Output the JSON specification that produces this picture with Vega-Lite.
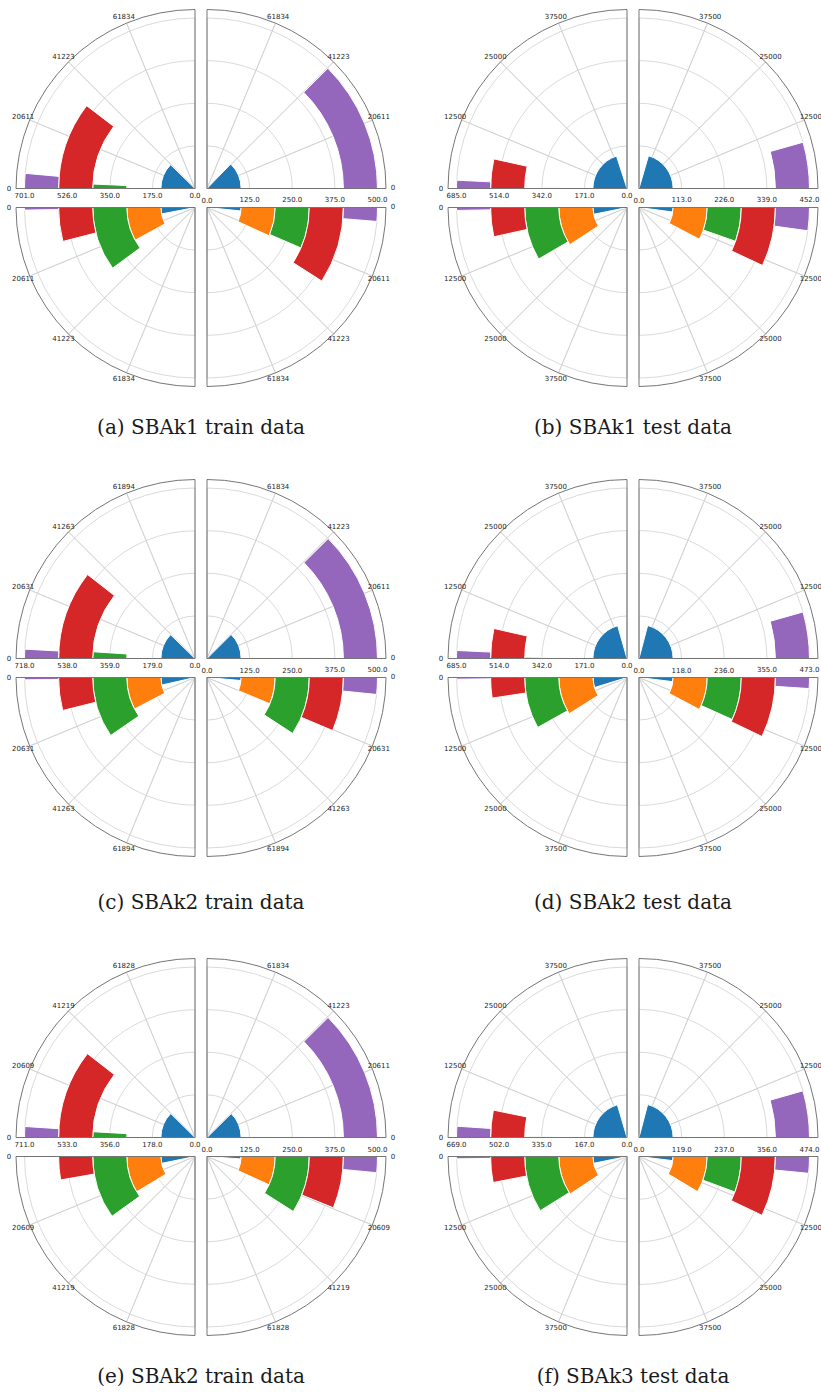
{
"$schema":"https://vega.github.io/schema/vega-lite/v6.json",
"padding":{"left":6,"top":7.5,"right":0,"bottom":5},
"config":{"view":{"stroke":null},"legend":{"disable":true},
"text":{"font":"DejaVu Sans","fontSize":7,"color":"#262626","fill":"#262626","align":"center","baseline":"middle"},
"title":{"font":"DejaVu Serif","fontSize":20,"fontWeight":"normal","color":"#1a1a1a"}},
"datasets":{
"rt":[
{"k":701,"v":0,"l":"0.0"},{"k":701,"v":175,"l":"175.0"},{"k":701,"v":350,"l":"350.0"},{"k":701,"v":526,"l":"526.0"},{"k":701,"v":701,"l":"701.0"},
{"k":500,"v":0,"l":"0.0"},{"k":500,"v":125,"l":"125.0"},{"k":500,"v":250,"l":"250.0"},{"k":500,"v":375,"l":"375.0"},{"k":500,"v":500,"l":"500.0"},
{"k":685,"v":0,"l":"0.0"},{"k":685,"v":171,"l":"171.0"},{"k":685,"v":342,"l":"342.0"},{"k":685,"v":514,"l":"514.0"},{"k":685,"v":685,"l":"685.0"},
{"k":452,"v":0,"l":"0.0"},{"k":452,"v":113,"l":"113.0"},{"k":452,"v":226,"l":"226.0"},{"k":452,"v":339,"l":"339.0"},{"k":452,"v":452,"l":"452.0"},
{"k":718,"v":0,"l":"0.0"},{"k":718,"v":179,"l":"179.0"},{"k":718,"v":359,"l":"359.0"},{"k":718,"v":538,"l":"538.0"},{"k":718,"v":718,"l":"718.0"},
{"k":473,"v":0,"l":"0.0"},{"k":473,"v":118,"l":"118.0"},{"k":473,"v":236,"l":"236.0"},{"k":473,"v":355,"l":"355.0"},{"k":473,"v":473,"l":"473.0"},
{"k":711,"v":0,"l":"0.0"},{"k":711,"v":178,"l":"178.0"},{"k":711,"v":356,"l":"356.0"},{"k":711,"v":533,"l":"533.0"},{"k":711,"v":711,"l":"711.0"},
{"k":669,"v":0,"l":"0.0"},{"k":669,"v":167,"l":"167.0"},{"k":669,"v":335,"l":"335.0"},{"k":669,"v":502,"l":"502.0"},{"k":669,"v":669,"l":"669.0"},
{"k":474,"v":0,"l":"0.0"},{"k":474,"v":119,"l":"119.0"},{"k":474,"v":237,"l":"237.0"},{"k":474,"v":356,"l":"356.0"},{"k":474,"v":474,"l":"474.0"}
],
"tt":[
{"k":"A","v":0,"l":"0"},{"k":"A","v":20611,"l":"20611"},{"k":"A","v":41223,"l":"41223"},{"k":"A","v":61834,"l":"61834"},
{"k":"B","v":0,"l":"0"},{"k":"B","v":12500,"l":"12500"},{"k":"B","v":25000,"l":"25000"},{"k":"B","v":37500,"l":"37500"},
{"k":"C","v":0,"l":"0"},{"k":"C","v":20631,"l":"20631"},{"k":"C","v":41263,"l":"41263"},{"k":"C","v":61894,"l":"61894"},
{"k":"E","v":0,"l":"0"},{"k":"E","v":20609,"l":"20609"},{"k":"E","v":41219,"l":"41219"},{"k":"E","v":61828,"l":"61828"}
],
"bars":[
{"p":"a","q":"TL","c":0,"r0":0,"r1":140.2,"n":40490},{"p":"a","q":"TL","c":1,"r0":140.2,"r1":280.4,"n":0},{"p":"a","q":"TL","c":2,"r0":280.4,"r1":420.6,"n":2290},{"p":"a","q":"TL","c":3,"r0":420.6,"r1":560.8,"n":34260},{"p":"a","q":"TL","c":4,"r0":560.8,"r1":701,"n":4670},
{"p":"a","q":"TR","c":0,"r0":0,"r1":100,"n":42050},{"p":"a","q":"TR","c":1,"r0":100,"r1":200,"n":0},{"p":"a","q":"TR","c":2,"r0":200,"r1":300,"n":0},{"p":"a","q":"TR","c":3,"r0":300,"r1":400,"n":0},{"p":"a","q":"TR","c":4,"r0":400,"r1":500,"n":41085},
{"p":"a","q":"BL","c":0,"r0":0,"r1":140.2,"n":10000},{"p":"a","q":"BL","c":1,"r0":140.2,"r1":280.4,"n":26200},{"p":"a","q":"BL","c":2,"r0":280.4,"r1":420.6,"n":33300},{"p":"a","q":"BL","c":3,"r0":420.6,"r1":560.8,"n":13190},{"p":"a","q":"BL","c":4,"r0":560.8,"r1":701,"n":800},
{"p":"a","q":"BR","c":0,"r0":0,"r1":100,"n":5300},{"p":"a","q":"BR","c":1,"r0":100,"r1":200,"n":22440},{"p":"a","q":"BR","c":2,"r0":200,"r1":300,"n":21340},{"p":"a","q":"BR","c":3,"r0":300,"r1":400,"n":29910},{"p":"a","q":"BR","c":4,"r0":400,"r1":500,"n":4300},
{"p":"b","q":"TL","c":0,"r0":0,"r1":137,"n":40050},{"p":"b","q":"TL","c":1,"r0":137,"r1":274,"n":0},{"p":"b","q":"TL","c":2,"r0":274,"r1":411,"n":330},{"p":"b","q":"TL","c":3,"r0":411,"r1":548,"n":6970},{"p":"b","q":"TL","c":4,"r0":548,"r1":685,"n":1550},
{"p":"b","q":"TR","c":0,"r0":0,"r1":90.4,"n":41000},{"p":"b","q":"TR","c":1,"r0":90.4,"r1":180.8,"n":0},{"p":"b","q":"TR","c":2,"r0":180.8,"r1":271.2,"n":0},{"p":"b","q":"TR","c":3,"r0":271.2,"r1":361.6,"n":0},{"p":"b","q":"TR","c":4,"r0":361.6,"r1":452,"n":8750},
{"p":"b","q":"BL","c":0,"r0":0,"r1":137,"n":6400},{"p":"b","q":"BL","c":1,"r0":137,"r1":274,"n":18330},{"p":"b","q":"BL","c":2,"r0":274,"r1":411,"n":16800},{"p":"b","q":"BL","c":3,"r0":411,"r1":548,"n":6890},{"p":"b","q":"BL","c":4,"r0":548,"r1":685,"n":550},
{"p":"b","q":"BR","c":0,"r0":0,"r1":90.4,"n":4200},{"p":"b","q":"BR","c":1,"r0":90.4,"r1":180.8,"n":15400},{"p":"b","q":"BR","c":2,"r0":180.8,"r1":271.2,"n":10720},{"p":"b","q":"BR","c":3,"r0":271.2,"r1":361.6,"n":13970},{"p":"b","q":"BR","c":4,"r0":361.6,"r1":452,"n":4360},
{"p":"c","q":"TL","c":0,"r0":0,"r1":143.6,"n":40530},{"p":"c","q":"TL","c":1,"r0":143.6,"r1":287.2,"n":0},{"p":"c","q":"TL","c":2,"r0":287.2,"r1":430.8,"n":3480},{"p":"c","q":"TL","c":3,"r0":430.8,"r1":574.4,"n":34840},{"p":"c","q":"TL","c":4,"r0":574.4,"r1":718,"n":2890},
{"p":"c","q":"TR","c":0,"r0":0,"r1":100,"n":41220},{"p":"c","q":"TR","c":1,"r0":100,"r1":200,"n":0},{"p":"c","q":"TR","c":2,"r0":200,"r1":300,"n":0},{"p":"c","q":"TR","c":3,"r0":300,"r1":400,"n":0},{"p":"c","q":"TR","c":4,"r0":400,"r1":500,"n":40950},
{"p":"c","q":"BL","c":0,"r0":0,"r1":143.6,"n":11730},{"p":"c","q":"BL","c":1,"r0":143.6,"r1":287.2,"n":25220},{"p":"c","q":"BL","c":2,"r0":287.2,"r1":430.8,"n":31630},{"p":"c","q":"BL","c":3,"r0":430.8,"r1":574.4,"n":12840},{"p":"c","q":"BL","c":4,"r0":574.4,"r1":718,"n":730},
{"p":"c","q":"BR","c":0,"r0":0,"r1":100,"n":4700},{"p":"c","q":"BR","c":1,"r0":100,"r1":200,"n":20820},{"p":"c","q":"BR","c":2,"r0":200,"r1":300,"n":30400},{"p":"c","q":"BR","c":3,"r0":300,"r1":400,"n":21000},{"p":"c","q":"BR","c":4,"r0":400,"r1":500,"n":5230},
{"p":"d","q":"TL","c":0,"r0":0,"r1":137,"n":41170},{"p":"d","q":"TL","c":1,"r0":137,"r1":274,"n":0},{"p":"d","q":"TL","c":2,"r0":274,"r1":411,"n":420},{"p":"d","q":"TL","c":3,"r0":411,"r1":548,"n":7060},{"p":"d","q":"TL","c":4,"r0":548,"r1":685,"n":1500},
{"p":"d","q":"TR","c":0,"r0":0,"r1":94.6,"n":41830},{"p":"d","q":"TR","c":1,"r0":94.6,"r1":189.2,"n":0},{"p":"d","q":"TR","c":2,"r0":189.2,"r1":283.8,"n":0},{"p":"d","q":"TR","c":3,"r0":283.8,"r1":378.4,"n":0},{"p":"d","q":"TR","c":4,"r0":378.4,"r1":473,"n":8800},
{"p":"d","q":"BL","c":0,"r0":0,"r1":137,"n":9550},{"p":"d","q":"BL","c":1,"r0":137,"r1":274,"n":17780},{"p":"d","q":"BL","c":2,"r0":274,"r1":411,"n":16240},{"p":"d","q":"BL","c":3,"r0":411,"r1":548,"n":4830},{"p":"d","q":"BL","c":4,"r0":548,"r1":685,"n":310},
{"p":"d","q":"BR","c":0,"r0":0,"r1":94.6,"n":3900},{"p":"d","q":"BR","c":1,"r0":94.6,"r1":189.2,"n":15500},{"p":"d","q":"BR","c":2,"r0":189.2,"r1":283.8,"n":13470},{"p":"d","q":"BR","c":3,"r0":283.8,"r1":378.4,"n":14240},{"p":"d","q":"BR","c":4,"r0":378.4,"r1":473,"n":2070},
{"p":"e","q":"TL","c":0,"r0":0,"r1":142.2,"n":40850},{"p":"e","q":"TL","c":1,"r0":142.2,"r1":284.4,"n":0},{"p":"e","q":"TL","c":2,"r0":284.4,"r1":426.6,"n":2980},{"p":"e","q":"TL","c":3,"r0":426.6,"r1":568.8,"n":34760},{"p":"e","q":"TL","c":4,"r0":568.8,"r1":711,"n":3390},
{"p":"e","q":"TR","c":0,"r0":0,"r1":100,"n":40870},{"p":"e","q":"TR","c":1,"r0":100,"r1":200,"n":0},{"p":"e","q":"TR","c":2,"r0":200,"r1":300,"n":0},{"p":"e","q":"TR","c":3,"r0":300,"r1":400,"n":0},{"p":"e","q":"TR","c":4,"r0":400,"r1":500,"n":41000},
{"p":"e","q":"BL","c":0,"r0":0,"r1":142.2,"n":10650},{"p":"e","q":"BL","c":1,"r0":142.2,"r1":284.4,"n":28580},{"p":"e","q":"BL","c":2,"r0":284.4,"r1":426.6,"n":32750},{"p":"e","q":"BL","c":3,"r0":426.6,"r1":568.8,"n":9070},{"p":"e","q":"BL","c":4,"r0":568.8,"r1":711,"n":0},
{"p":"e","q":"BR","c":0,"r0":0,"r1":100,"n":3660},{"p":"e","q":"BR","c":1,"r0":100,"r1":200,"n":22440},{"p":"e","q":"BR","c":2,"r0":200,"r1":300,"n":29770},{"p":"e","q":"BR","c":3,"r0":300,"r1":400,"n":20240},{"p":"e","q":"BR","c":4,"r0":400,"r1":500,"n":4990},
{"p":"f","q":"TL","c":0,"r0":0,"r1":133.8,"n":40890},{"p":"f","q":"TL","c":1,"r0":133.8,"r1":267.6,"n":0},{"p":"f","q":"TL","c":2,"r0":267.6,"r1":401.4,"n":280},{"p":"f","q":"TL","c":3,"r0":401.4,"r1":535.2,"n":6440},{"p":"f","q":"TL","c":4,"r0":535.2,"r1":669,"n":2110},
{"p":"f","q":"TR","c":0,"r0":0,"r1":94.8,"n":41830},{"p":"f","q":"TR","c":1,"r0":94.8,"r1":189.6,"n":0},{"p":"f","q":"TR","c":2,"r0":189.6,"r1":284.4,"n":0},{"p":"f","q":"TR","c":3,"r0":284.4,"r1":379.2,"n":0},{"p":"f","q":"TR","c":4,"r0":379.2,"r1":474,"n":8830},
{"p":"f","q":"BL","c":0,"r0":0,"r1":133.8,"n":6390},{"p":"f","q":"BL","c":1,"r0":133.8,"r1":267.6,"n":18530},{"p":"f","q":"BL","c":2,"r0":267.6,"r1":401.4,"n":17780},{"p":"f","q":"BL","c":3,"r0":401.4,"r1":535.2,"n":6110},{"p":"f","q":"BL","c":4,"r0":535.2,"r1":669,"n":440},
{"p":"f","q":"BR","c":0,"r0":0,"r1":94.8,"n":3900},{"p":"f","q":"BR","c":1,"r0":94.8,"r1":189.6,"n":17200},{"p":"f","q":"BR","c":2,"r0":189.6,"r1":284.4,"n":11280},{"p":"f","q":"BR","c":3,"r0":284.4,"r1":379.2,"n":14200},{"p":"f","q":"BR","c":4,"r0":379.2,"r1":474,"n":3150}
]},
"columns":5,"spacing":{"row":19,"column":12},"bounds":"flush",
"resolve":{"scale":{"theta":"independent","radius":"independent"}},
"concat":[
{"width":179,"height":179,"layer":[
{"data":{"name":"rt"},"transform":[{"filter":"datum.k==701&&datum.v>0"}],"mark":{"type":"arc","x":"width","y":"height","filled":false,"stroke":"#d0d0d0","strokeWidth":0.8},"encoding":{"radius":{"field":"v","type":"quantitative","stack":null,"scale":{"type":"linear","domain":[0,736.05],"range":[0,179]}},"theta":{"datum":0,"type":"quantitative","scale":{"type":"linear","domain":[0,82445],"range":[4.712389,6.283185]}},"theta2":{"datum":82445}}},
{"data":{"name":"tt"},"transform":[{"filter":"datum.k=='A'&&datum.v>0"}],"mark":{"type":"arc","x":"width","y":"height","filled":false,"stroke":"#d0d0d0","strokeWidth":0.8},"encoding":{"theta":{"field":"v","type":"quantitative"},"theta2":{"field":"v"},"radius":{"datum":736.05,"type":"quantitative"}}},
{"data":{"name":"bars"},"transform":[{"filter":"datum.p=='a'&&datum.q=='TL'&&datum.n>0"}],"mark":{"type":"arc","x":"width","y":"height","stroke":"white","strokeWidth":1},"encoding":{"theta":{"field":"n","type":"quantitative"},"theta2":{"datum":0},"radius":{"field":"r1","type":"quantitative"},"radius2":{"field":"r0"},"color":{"field":"c","type":"nominal","scale":{"domain":[0,1,2,3,4],"range":["#1f77b4","#ff7f0e","#2ca02c","#d62728","#9467bd"]}}}},
{"data":{"values":[{}]},"mark":{"type":"arc","x":"width","y":"height","filled":false,"stroke":"#666666","strokeWidth":0.9},"encoding":{"theta":{"datum":0,"type":"quantitative"},"theta2":{"datum":82445},"radius":{"datum":736.05,"type":"quantitative"}}},
{"data":{"name":"tt"},"transform":[{"filter":"datum.k=='A'"}],"mark":{"type":"text","x":"width","y":"height","radiusOffset":7},"encoding":{"theta":{"field":"v","type":"quantitative"},"radius":{"datum":736.05,"type":"quantitative"},"text":{"field":"l"}}},
{"data":{"name":"rt"},"transform":[{"filter":"datum.k==701"}],"mark":{"type":"text","x":"width","y":"height","dy":7},"encoding":{"theta":{"datum":0,"type":"quantitative"},"radius":{"field":"v","type":"quantitative","stack":null},"text":{"field":"l"}}}
]},
{"width":179,"height":179,"layer":[
{"data":{"name":"rt"},"transform":[{"filter":"datum.k==500&&datum.v>0"}],"mark":{"type":"arc","x":0,"y":"height","filled":false,"stroke":"#d0d0d0","strokeWidth":0.8},"encoding":{"radius":{"field":"v","type":"quantitative","stack":null,"scale":{"type":"linear","domain":[0,525],"range":[0,179]}},"theta":{"datum":0,"type":"quantitative","scale":{"type":"linear","domain":[0,82445],"range":[1.570796,0]}},"theta2":{"datum":82445}}},
{"data":{"name":"tt"},"transform":[{"filter":"datum.k=='A'&&datum.v>0"}],"mark":{"type":"arc","x":0,"y":"height","filled":false,"stroke":"#d0d0d0","strokeWidth":0.8},"encoding":{"theta":{"field":"v","type":"quantitative"},"theta2":{"field":"v"},"radius":{"datum":525,"type":"quantitative"}}},
{"data":{"name":"bars"},"transform":[{"filter":"datum.p=='a'&&datum.q=='TR'&&datum.n>0"}],"mark":{"type":"arc","x":0,"y":"height","stroke":"white","strokeWidth":1},"encoding":{"theta":{"field":"n","type":"quantitative"},"theta2":{"datum":0},"radius":{"field":"r1","type":"quantitative"},"radius2":{"field":"r0"},"color":{"field":"c","type":"nominal","scale":{"domain":[0,1,2,3,4],"range":["#1f77b4","#ff7f0e","#2ca02c","#d62728","#9467bd"]}}}},
{"data":{"values":[{}]},"mark":{"type":"arc","x":0,"y":"height","filled":false,"stroke":"#666666","strokeWidth":0.9},"encoding":{"theta":{"datum":0,"type":"quantitative"},"theta2":{"datum":82445},"radius":{"datum":525,"type":"quantitative"}}},
{"data":{"name":"tt"},"transform":[{"filter":"datum.k=='A'"}],"mark":{"type":"text","x":0,"y":"height","radiusOffset":7},"encoding":{"theta":{"field":"v","type":"quantitative"},"radius":{"datum":525,"type":"quantitative"},"text":{"field":"l"}}}
]},
{"width":38,"height":1,"data":{"values":[]},"mark":"point"},
{"width":179,"height":179,"layer":[
{"data":{"name":"rt"},"transform":[{"filter":"datum.k==685&&datum.v>0"}],"mark":{"type":"arc","x":"width","y":"height","filled":false,"stroke":"#d0d0d0","strokeWidth":0.8},"encoding":{"radius":{"field":"v","type":"quantitative","stack":null,"scale":{"type":"linear","domain":[0,719.25],"range":[0,179]}},"theta":{"datum":0,"type":"quantitative","scale":{"type":"linear","domain":[0,50000],"range":[4.712389,6.283185]}},"theta2":{"datum":50000}}},
{"data":{"name":"tt"},"transform":[{"filter":"datum.k=='B'&&datum.v>0"}],"mark":{"type":"arc","x":"width","y":"height","filled":false,"stroke":"#d0d0d0","strokeWidth":0.8},"encoding":{"theta":{"field":"v","type":"quantitative"},"theta2":{"field":"v"},"radius":{"datum":719.25,"type":"quantitative"}}},
{"data":{"name":"bars"},"transform":[{"filter":"datum.p=='b'&&datum.q=='TL'&&datum.n>0"}],"mark":{"type":"arc","x":"width","y":"height","stroke":"white","strokeWidth":1},"encoding":{"theta":{"field":"n","type":"quantitative"},"theta2":{"datum":0},"radius":{"field":"r1","type":"quantitative"},"radius2":{"field":"r0"},"color":{"field":"c","type":"nominal","scale":{"domain":[0,1,2,3,4],"range":["#1f77b4","#ff7f0e","#2ca02c","#d62728","#9467bd"]}}}},
{"data":{"values":[{}]},"mark":{"type":"arc","x":"width","y":"height","filled":false,"stroke":"#666666","strokeWidth":0.9},"encoding":{"theta":{"datum":0,"type":"quantitative"},"theta2":{"datum":50000},"radius":{"datum":719.25,"type":"quantitative"}}},
{"data":{"name":"tt"},"transform":[{"filter":"datum.k=='B'"}],"mark":{"type":"text","x":"width","y":"height","radiusOffset":7},"encoding":{"theta":{"field":"v","type":"quantitative"},"radius":{"datum":719.25,"type":"quantitative"},"text":{"field":"l"}}},
{"data":{"name":"rt"},"transform":[{"filter":"datum.k==685"}],"mark":{"type":"text","x":"width","y":"height","dy":7},"encoding":{"theta":{"datum":0,"type":"quantitative"},"radius":{"field":"v","type":"quantitative","stack":null},"text":{"field":"l"}}}
]},
{"width":179,"height":179,"layer":[
{"data":{"name":"rt"},"transform":[{"filter":"datum.k==452&&datum.v>0"}],"mark":{"type":"arc","x":0,"y":"height","filled":false,"stroke":"#d0d0d0","strokeWidth":0.8},"encoding":{"radius":{"field":"v","type":"quantitative","stack":null,"scale":{"type":"linear","domain":[0,474.6],"range":[0,179]}},"theta":{"datum":0,"type":"quantitative","scale":{"type":"linear","domain":[0,50000],"range":[1.570796,0]}},"theta2":{"datum":50000}}},
{"data":{"name":"tt"},"transform":[{"filter":"datum.k=='B'&&datum.v>0"}],"mark":{"type":"arc","x":0,"y":"height","filled":false,"stroke":"#d0d0d0","strokeWidth":0.8},"encoding":{"theta":{"field":"v","type":"quantitative"},"theta2":{"field":"v"},"radius":{"datum":474.6,"type":"quantitative"}}},
{"data":{"name":"bars"},"transform":[{"filter":"datum.p=='b'&&datum.q=='TR'&&datum.n>0"}],"mark":{"type":"arc","x":0,"y":"height","stroke":"white","strokeWidth":1},"encoding":{"theta":{"field":"n","type":"quantitative"},"theta2":{"datum":0},"radius":{"field":"r1","type":"quantitative"},"radius2":{"field":"r0"},"color":{"field":"c","type":"nominal","scale":{"domain":[0,1,2,3,4],"range":["#1f77b4","#ff7f0e","#2ca02c","#d62728","#9467bd"]}}}},
{"data":{"values":[{}]},"mark":{"type":"arc","x":0,"y":"height","filled":false,"stroke":"#666666","strokeWidth":0.9},"encoding":{"theta":{"datum":0,"type":"quantitative"},"theta2":{"datum":50000},"radius":{"datum":474.6,"type":"quantitative"}}},
{"data":{"name":"tt"},"transform":[{"filter":"datum.k=='B'"}],"mark":{"type":"text","x":0,"y":"height","radiusOffset":7},"encoding":{"theta":{"field":"v","type":"quantitative"},"radius":{"datum":474.6,"type":"quantitative"},"text":{"field":"l"}}}
]},
{"width":179,"height":179,"title":{"text":"(a) SBAk1 train data","orient":"bottom","anchor":"end","align":"center","dx":6,"offset":30,"frame":"group"},"layer":[
{"data":{"name":"rt"},"transform":[{"filter":"datum.k==701&&datum.v>0"}],"mark":{"type":"arc","x":"width","y":0,"filled":false,"stroke":"#d0d0d0","strokeWidth":0.8},"encoding":{"radius":{"field":"v","type":"quantitative","stack":null,"scale":{"type":"linear","domain":[0,736.05],"range":[0,179]}},"theta":{"datum":0,"type":"quantitative","scale":{"type":"linear","domain":[0,82445],"range":[4.712389,3.141593]}},"theta2":{"datum":82445}}},
{"data":{"name":"tt"},"transform":[{"filter":"datum.k=='A'&&datum.v>0"}],"mark":{"type":"arc","x":"width","y":0,"filled":false,"stroke":"#d0d0d0","strokeWidth":0.8},"encoding":{"theta":{"field":"v","type":"quantitative"},"theta2":{"field":"v"},"radius":{"datum":736.05,"type":"quantitative"}}},
{"data":{"name":"bars"},"transform":[{"filter":"datum.p=='a'&&datum.q=='BL'&&datum.n>0"}],"mark":{"type":"arc","x":"width","y":0,"stroke":"white","strokeWidth":1},"encoding":{"theta":{"field":"n","type":"quantitative"},"theta2":{"datum":0},"radius":{"field":"r1","type":"quantitative"},"radius2":{"field":"r0"},"color":{"field":"c","type":"nominal","scale":{"domain":[0,1,2,3,4],"range":["#1f77b4","#ff7f0e","#2ca02c","#d62728","#9467bd"]}}}},
{"data":{"values":[{}]},"mark":{"type":"arc","x":"width","y":0,"filled":false,"stroke":"#666666","strokeWidth":0.9},"encoding":{"theta":{"datum":0,"type":"quantitative"},"theta2":{"datum":82445},"radius":{"datum":736.05,"type":"quantitative"}}},
{"data":{"name":"tt"},"transform":[{"filter":"datum.k=='A'"}],"mark":{"type":"text","x":"width","y":0,"radiusOffset":7},"encoding":{"theta":{"field":"v","type":"quantitative"},"radius":{"datum":736.05,"type":"quantitative"},"text":{"field":"l"}}}
]},
{"width":179,"height":179,"layer":[
{"data":{"name":"rt"},"transform":[{"filter":"datum.k==500&&datum.v>0"}],"mark":{"type":"arc","x":0,"y":0,"filled":false,"stroke":"#d0d0d0","strokeWidth":0.8},"encoding":{"radius":{"field":"v","type":"quantitative","stack":null,"scale":{"type":"linear","domain":[0,525],"range":[0,179]}},"theta":{"datum":0,"type":"quantitative","scale":{"type":"linear","domain":[0,82445],"range":[1.570796,3.141593]}},"theta2":{"datum":82445}}},
{"data":{"name":"tt"},"transform":[{"filter":"datum.k=='A'&&datum.v>0"}],"mark":{"type":"arc","x":0,"y":0,"filled":false,"stroke":"#d0d0d0","strokeWidth":0.8},"encoding":{"theta":{"field":"v","type":"quantitative"},"theta2":{"field":"v"},"radius":{"datum":525,"type":"quantitative"}}},
{"data":{"name":"bars"},"transform":[{"filter":"datum.p=='a'&&datum.q=='BR'&&datum.n>0"}],"mark":{"type":"arc","x":0,"y":0,"stroke":"white","strokeWidth":1},"encoding":{"theta":{"field":"n","type":"quantitative"},"theta2":{"datum":0},"radius":{"field":"r1","type":"quantitative"},"radius2":{"field":"r0"},"color":{"field":"c","type":"nominal","scale":{"domain":[0,1,2,3,4],"range":["#1f77b4","#ff7f0e","#2ca02c","#d62728","#9467bd"]}}}},
{"data":{"values":[{}]},"mark":{"type":"arc","x":0,"y":0,"filled":false,"stroke":"#666666","strokeWidth":0.9},"encoding":{"theta":{"datum":0,"type":"quantitative"},"theta2":{"datum":82445},"radius":{"datum":525,"type":"quantitative"}}},
{"data":{"name":"tt"},"transform":[{"filter":"datum.k=='A'"}],"mark":{"type":"text","x":0,"y":0,"radiusOffset":7},"encoding":{"theta":{"field":"v","type":"quantitative"},"radius":{"datum":525,"type":"quantitative"},"text":{"field":"l"}}},
{"data":{"name":"rt"},"transform":[{"filter":"datum.k==500"}],"mark":{"type":"text","x":0,"y":0,"dy":-7},"encoding":{"theta":{"datum":0,"type":"quantitative"},"radius":{"field":"v","type":"quantitative","stack":null},"text":{"field":"l"}}}
]},
{"width":38,"height":1,"data":{"values":[]},"mark":"point"},
{"width":179,"height":179,"title":{"text":"(b) SBAk1 test data","orient":"bottom","anchor":"end","align":"center","dx":6,"offset":30,"frame":"group"},"layer":[
{"data":{"name":"rt"},"transform":[{"filter":"datum.k==685&&datum.v>0"}],"mark":{"type":"arc","x":"width","y":0,"filled":false,"stroke":"#d0d0d0","strokeWidth":0.8},"encoding":{"radius":{"field":"v","type":"quantitative","stack":null,"scale":{"type":"linear","domain":[0,719.25],"range":[0,179]}},"theta":{"datum":0,"type":"quantitative","scale":{"type":"linear","domain":[0,50000],"range":[4.712389,3.141593]}},"theta2":{"datum":50000}}},
{"data":{"name":"tt"},"transform":[{"filter":"datum.k=='B'&&datum.v>0"}],"mark":{"type":"arc","x":"width","y":0,"filled":false,"stroke":"#d0d0d0","strokeWidth":0.8},"encoding":{"theta":{"field":"v","type":"quantitative"},"theta2":{"field":"v"},"radius":{"datum":719.25,"type":"quantitative"}}},
{"data":{"name":"bars"},"transform":[{"filter":"datum.p=='b'&&datum.q=='BL'&&datum.n>0"}],"mark":{"type":"arc","x":"width","y":0,"stroke":"white","strokeWidth":1},"encoding":{"theta":{"field":"n","type":"quantitative"},"theta2":{"datum":0},"radius":{"field":"r1","type":"quantitative"},"radius2":{"field":"r0"},"color":{"field":"c","type":"nominal","scale":{"domain":[0,1,2,3,4],"range":["#1f77b4","#ff7f0e","#2ca02c","#d62728","#9467bd"]}}}},
{"data":{"values":[{}]},"mark":{"type":"arc","x":"width","y":0,"filled":false,"stroke":"#666666","strokeWidth":0.9},"encoding":{"theta":{"datum":0,"type":"quantitative"},"theta2":{"datum":50000},"radius":{"datum":719.25,"type":"quantitative"}}},
{"data":{"name":"tt"},"transform":[{"filter":"datum.k=='B'"}],"mark":{"type":"text","x":"width","y":0,"radiusOffset":7},"encoding":{"theta":{"field":"v","type":"quantitative"},"radius":{"datum":719.25,"type":"quantitative"},"text":{"field":"l"}}}
]},
{"width":179,"height":179,"layer":[
{"data":{"name":"rt"},"transform":[{"filter":"datum.k==452&&datum.v>0"}],"mark":{"type":"arc","x":0,"y":0,"filled":false,"stroke":"#d0d0d0","strokeWidth":0.8},"encoding":{"radius":{"field":"v","type":"quantitative","stack":null,"scale":{"type":"linear","domain":[0,474.6],"range":[0,179]}},"theta":{"datum":0,"type":"quantitative","scale":{"type":"linear","domain":[0,50000],"range":[1.570796,3.141593]}},"theta2":{"datum":50000}}},
{"data":{"name":"tt"},"transform":[{"filter":"datum.k=='B'&&datum.v>0"}],"mark":{"type":"arc","x":0,"y":0,"filled":false,"stroke":"#d0d0d0","strokeWidth":0.8},"encoding":{"theta":{"field":"v","type":"quantitative"},"theta2":{"field":"v"},"radius":{"datum":474.6,"type":"quantitative"}}},
{"data":{"name":"bars"},"transform":[{"filter":"datum.p=='b'&&datum.q=='BR'&&datum.n>0"}],"mark":{"type":"arc","x":0,"y":0,"stroke":"white","strokeWidth":1},"encoding":{"theta":{"field":"n","type":"quantitative"},"theta2":{"datum":0},"radius":{"field":"r1","type":"quantitative"},"radius2":{"field":"r0"},"color":{"field":"c","type":"nominal","scale":{"domain":[0,1,2,3,4],"range":["#1f77b4","#ff7f0e","#2ca02c","#d62728","#9467bd"]}}}},
{"data":{"values":[{}]},"mark":{"type":"arc","x":0,"y":0,"filled":false,"stroke":"#666666","strokeWidth":0.9},"encoding":{"theta":{"datum":0,"type":"quantitative"},"theta2":{"datum":50000},"radius":{"datum":474.6,"type":"quantitative"}}},
{"data":{"name":"tt"},"transform":[{"filter":"datum.k=='B'"}],"mark":{"type":"text","x":0,"y":0,"radiusOffset":7},"encoding":{"theta":{"field":"v","type":"quantitative"},"radius":{"datum":474.6,"type":"quantitative"},"text":{"field":"l"}}},
{"data":{"name":"rt"},"transform":[{"filter":"datum.k==452"}],"mark":{"type":"text","x":0,"y":0,"dy":-7},"encoding":{"theta":{"datum":0,"type":"quantitative"},"radius":{"field":"v","type":"quantitative","stack":null},"text":{"field":"l"}}}
]},
{"width":1,"height":55,"data":{"values":[]},"mark":"point"},
{"width":1,"height":1,"data":{"values":[]},"mark":"point"},
{"width":1,"height":1,"data":{"values":[]},"mark":"point"},
{"width":1,"height":1,"data":{"values":[]},"mark":"point"},
{"width":1,"height":1,"data":{"values":[]},"mark":"point"},
{"width":179,"height":179,"layer":[
{"data":{"name":"rt"},"transform":[{"filter":"datum.k==718&&datum.v>0"}],"mark":{"type":"arc","x":"width","y":"height","filled":false,"stroke":"#d0d0d0","strokeWidth":0.8},"encoding":{"radius":{"field":"v","type":"quantitative","stack":null,"scale":{"type":"linear","domain":[0,753.9],"range":[0,179]}},"theta":{"datum":0,"type":"quantitative","scale":{"type":"linear","domain":[0,82525],"range":[4.712389,6.283185]}},"theta2":{"datum":82525}}},
{"data":{"name":"tt"},"transform":[{"filter":"datum.k=='C'&&datum.v>0"}],"mark":{"type":"arc","x":"width","y":"height","filled":false,"stroke":"#d0d0d0","strokeWidth":0.8},"encoding":{"theta":{"field":"v","type":"quantitative"},"theta2":{"field":"v"},"radius":{"datum":753.9,"type":"quantitative"}}},
{"data":{"name":"bars"},"transform":[{"filter":"datum.p=='c'&&datum.q=='TL'&&datum.n>0"}],"mark":{"type":"arc","x":"width","y":"height","stroke":"white","strokeWidth":1},"encoding":{"theta":{"field":"n","type":"quantitative"},"theta2":{"datum":0},"radius":{"field":"r1","type":"quantitative"},"radius2":{"field":"r0"},"color":{"field":"c","type":"nominal","scale":{"domain":[0,1,2,3,4],"range":["#1f77b4","#ff7f0e","#2ca02c","#d62728","#9467bd"]}}}},
{"data":{"values":[{}]},"mark":{"type":"arc","x":"width","y":"height","filled":false,"stroke":"#666666","strokeWidth":0.9},"encoding":{"theta":{"datum":0,"type":"quantitative"},"theta2":{"datum":82525},"radius":{"datum":753.9,"type":"quantitative"}}},
{"data":{"name":"tt"},"transform":[{"filter":"datum.k=='C'"}],"mark":{"type":"text","x":"width","y":"height","radiusOffset":7},"encoding":{"theta":{"field":"v","type":"quantitative"},"radius":{"datum":753.9,"type":"quantitative"},"text":{"field":"l"}}},
{"data":{"name":"rt"},"transform":[{"filter":"datum.k==718"}],"mark":{"type":"text","x":"width","y":"height","dy":7},"encoding":{"theta":{"datum":0,"type":"quantitative"},"radius":{"field":"v","type":"quantitative","stack":null},"text":{"field":"l"}}}
]},
{"width":179,"height":179,"layer":[
{"data":{"name":"rt"},"transform":[{"filter":"datum.k==500&&datum.v>0"}],"mark":{"type":"arc","x":0,"y":"height","filled":false,"stroke":"#d0d0d0","strokeWidth":0.8},"encoding":{"radius":{"field":"v","type":"quantitative","stack":null,"scale":{"type":"linear","domain":[0,525],"range":[0,179]}},"theta":{"datum":0,"type":"quantitative","scale":{"type":"linear","domain":[0,82445],"range":[1.570796,0]}},"theta2":{"datum":82445}}},
{"data":{"name":"tt"},"transform":[{"filter":"datum.k=='A'&&datum.v>0"}],"mark":{"type":"arc","x":0,"y":"height","filled":false,"stroke":"#d0d0d0","strokeWidth":0.8},"encoding":{"theta":{"field":"v","type":"quantitative"},"theta2":{"field":"v"},"radius":{"datum":525,"type":"quantitative"}}},
{"data":{"name":"bars"},"transform":[{"filter":"datum.p=='c'&&datum.q=='TR'&&datum.n>0"}],"mark":{"type":"arc","x":0,"y":"height","stroke":"white","strokeWidth":1},"encoding":{"theta":{"field":"n","type":"quantitative"},"theta2":{"datum":0},"radius":{"field":"r1","type":"quantitative"},"radius2":{"field":"r0"},"color":{"field":"c","type":"nominal","scale":{"domain":[0,1,2,3,4],"range":["#1f77b4","#ff7f0e","#2ca02c","#d62728","#9467bd"]}}}},
{"data":{"values":[{}]},"mark":{"type":"arc","x":0,"y":"height","filled":false,"stroke":"#666666","strokeWidth":0.9},"encoding":{"theta":{"datum":0,"type":"quantitative"},"theta2":{"datum":82445},"radius":{"datum":525,"type":"quantitative"}}},
{"data":{"name":"tt"},"transform":[{"filter":"datum.k=='A'"}],"mark":{"type":"text","x":0,"y":"height","radiusOffset":7},"encoding":{"theta":{"field":"v","type":"quantitative"},"radius":{"datum":525,"type":"quantitative"},"text":{"field":"l"}}}
]},
{"width":38,"height":1,"data":{"values":[]},"mark":"point"},
{"width":179,"height":179,"layer":[
{"data":{"name":"rt"},"transform":[{"filter":"datum.k==685&&datum.v>0"}],"mark":{"type":"arc","x":"width","y":"height","filled":false,"stroke":"#d0d0d0","strokeWidth":0.8},"encoding":{"radius":{"field":"v","type":"quantitative","stack":null,"scale":{"type":"linear","domain":[0,719.25],"range":[0,179]}},"theta":{"datum":0,"type":"quantitative","scale":{"type":"linear","domain":[0,50000],"range":[4.712389,6.283185]}},"theta2":{"datum":50000}}},
{"data":{"name":"tt"},"transform":[{"filter":"datum.k=='B'&&datum.v>0"}],"mark":{"type":"arc","x":"width","y":"height","filled":false,"stroke":"#d0d0d0","strokeWidth":0.8},"encoding":{"theta":{"field":"v","type":"quantitative"},"theta2":{"field":"v"},"radius":{"datum":719.25,"type":"quantitative"}}},
{"data":{"name":"bars"},"transform":[{"filter":"datum.p=='d'&&datum.q=='TL'&&datum.n>0"}],"mark":{"type":"arc","x":"width","y":"height","stroke":"white","strokeWidth":1},"encoding":{"theta":{"field":"n","type":"quantitative"},"theta2":{"datum":0},"radius":{"field":"r1","type":"quantitative"},"radius2":{"field":"r0"},"color":{"field":"c","type":"nominal","scale":{"domain":[0,1,2,3,4],"range":["#1f77b4","#ff7f0e","#2ca02c","#d62728","#9467bd"]}}}},
{"data":{"values":[{}]},"mark":{"type":"arc","x":"width","y":"height","filled":false,"stroke":"#666666","strokeWidth":0.9},"encoding":{"theta":{"datum":0,"type":"quantitative"},"theta2":{"datum":50000},"radius":{"datum":719.25,"type":"quantitative"}}},
{"data":{"name":"tt"},"transform":[{"filter":"datum.k=='B'"}],"mark":{"type":"text","x":"width","y":"height","radiusOffset":7},"encoding":{"theta":{"field":"v","type":"quantitative"},"radius":{"datum":719.25,"type":"quantitative"},"text":{"field":"l"}}},
{"data":{"name":"rt"},"transform":[{"filter":"datum.k==685"}],"mark":{"type":"text","x":"width","y":"height","dy":7},"encoding":{"theta":{"datum":0,"type":"quantitative"},"radius":{"field":"v","type":"quantitative","stack":null},"text":{"field":"l"}}}
]},
{"width":179,"height":179,"layer":[
{"data":{"name":"rt"},"transform":[{"filter":"datum.k==473&&datum.v>0"}],"mark":{"type":"arc","x":0,"y":"height","filled":false,"stroke":"#d0d0d0","strokeWidth":0.8},"encoding":{"radius":{"field":"v","type":"quantitative","stack":null,"scale":{"type":"linear","domain":[0,496.65],"range":[0,179]}},"theta":{"datum":0,"type":"quantitative","scale":{"type":"linear","domain":[0,50000],"range":[1.570796,0]}},"theta2":{"datum":50000}}},
{"data":{"name":"tt"},"transform":[{"filter":"datum.k=='B'&&datum.v>0"}],"mark":{"type":"arc","x":0,"y":"height","filled":false,"stroke":"#d0d0d0","strokeWidth":0.8},"encoding":{"theta":{"field":"v","type":"quantitative"},"theta2":{"field":"v"},"radius":{"datum":496.65,"type":"quantitative"}}},
{"data":{"name":"bars"},"transform":[{"filter":"datum.p=='d'&&datum.q=='TR'&&datum.n>0"}],"mark":{"type":"arc","x":0,"y":"height","stroke":"white","strokeWidth":1},"encoding":{"theta":{"field":"n","type":"quantitative"},"theta2":{"datum":0},"radius":{"field":"r1","type":"quantitative"},"radius2":{"field":"r0"},"color":{"field":"c","type":"nominal","scale":{"domain":[0,1,2,3,4],"range":["#1f77b4","#ff7f0e","#2ca02c","#d62728","#9467bd"]}}}},
{"data":{"values":[{}]},"mark":{"type":"arc","x":0,"y":"height","filled":false,"stroke":"#666666","strokeWidth":0.9},"encoding":{"theta":{"datum":0,"type":"quantitative"},"theta2":{"datum":50000},"radius":{"datum":496.65,"type":"quantitative"}}},
{"data":{"name":"tt"},"transform":[{"filter":"datum.k=='B'"}],"mark":{"type":"text","x":0,"y":"height","radiusOffset":7},"encoding":{"theta":{"field":"v","type":"quantitative"},"radius":{"datum":496.65,"type":"quantitative"},"text":{"field":"l"}}}
]},
{"width":179,"height":179,"title":{"text":"(c) SBAk2 train data","orient":"bottom","anchor":"end","align":"center","dx":6,"offset":35,"frame":"group"},"layer":[
{"data":{"name":"rt"},"transform":[{"filter":"datum.k==718&&datum.v>0"}],"mark":{"type":"arc","x":"width","y":0,"filled":false,"stroke":"#d0d0d0","strokeWidth":0.8},"encoding":{"radius":{"field":"v","type":"quantitative","stack":null,"scale":{"type":"linear","domain":[0,753.9],"range":[0,179]}},"theta":{"datum":0,"type":"quantitative","scale":{"type":"linear","domain":[0,82525],"range":[4.712389,3.141593]}},"theta2":{"datum":82525}}},
{"data":{"name":"tt"},"transform":[{"filter":"datum.k=='C'&&datum.v>0"}],"mark":{"type":"arc","x":"width","y":0,"filled":false,"stroke":"#d0d0d0","strokeWidth":0.8},"encoding":{"theta":{"field":"v","type":"quantitative"},"theta2":{"field":"v"},"radius":{"datum":753.9,"type":"quantitative"}}},
{"data":{"name":"bars"},"transform":[{"filter":"datum.p=='c'&&datum.q=='BL'&&datum.n>0"}],"mark":{"type":"arc","x":"width","y":0,"stroke":"white","strokeWidth":1},"encoding":{"theta":{"field":"n","type":"quantitative"},"theta2":{"datum":0},"radius":{"field":"r1","type":"quantitative"},"radius2":{"field":"r0"},"color":{"field":"c","type":"nominal","scale":{"domain":[0,1,2,3,4],"range":["#1f77b4","#ff7f0e","#2ca02c","#d62728","#9467bd"]}}}},
{"data":{"values":[{}]},"mark":{"type":"arc","x":"width","y":0,"filled":false,"stroke":"#666666","strokeWidth":0.9},"encoding":{"theta":{"datum":0,"type":"quantitative"},"theta2":{"datum":82525},"radius":{"datum":753.9,"type":"quantitative"}}},
{"data":{"name":"tt"},"transform":[{"filter":"datum.k=='C'"}],"mark":{"type":"text","x":"width","y":0,"radiusOffset":7},"encoding":{"theta":{"field":"v","type":"quantitative"},"radius":{"datum":753.9,"type":"quantitative"},"text":{"field":"l"}}}
]},
{"width":179,"height":179,"layer":[
{"data":{"name":"rt"},"transform":[{"filter":"datum.k==500&&datum.v>0"}],"mark":{"type":"arc","x":0,"y":0,"filled":false,"stroke":"#d0d0d0","strokeWidth":0.8},"encoding":{"radius":{"field":"v","type":"quantitative","stack":null,"scale":{"type":"linear","domain":[0,525],"range":[0,179]}},"theta":{"datum":0,"type":"quantitative","scale":{"type":"linear","domain":[0,82525],"range":[1.570796,3.141593]}},"theta2":{"datum":82525}}},
{"data":{"name":"tt"},"transform":[{"filter":"datum.k=='C'&&datum.v>0"}],"mark":{"type":"arc","x":0,"y":0,"filled":false,"stroke":"#d0d0d0","strokeWidth":0.8},"encoding":{"theta":{"field":"v","type":"quantitative"},"theta2":{"field":"v"},"radius":{"datum":525,"type":"quantitative"}}},
{"data":{"name":"bars"},"transform":[{"filter":"datum.p=='c'&&datum.q=='BR'&&datum.n>0"}],"mark":{"type":"arc","x":0,"y":0,"stroke":"white","strokeWidth":1},"encoding":{"theta":{"field":"n","type":"quantitative"},"theta2":{"datum":0},"radius":{"field":"r1","type":"quantitative"},"radius2":{"field":"r0"},"color":{"field":"c","type":"nominal","scale":{"domain":[0,1,2,3,4],"range":["#1f77b4","#ff7f0e","#2ca02c","#d62728","#9467bd"]}}}},
{"data":{"values":[{}]},"mark":{"type":"arc","x":0,"y":0,"filled":false,"stroke":"#666666","strokeWidth":0.9},"encoding":{"theta":{"datum":0,"type":"quantitative"},"theta2":{"datum":82525},"radius":{"datum":525,"type":"quantitative"}}},
{"data":{"name":"tt"},"transform":[{"filter":"datum.k=='C'"}],"mark":{"type":"text","x":0,"y":0,"radiusOffset":7},"encoding":{"theta":{"field":"v","type":"quantitative"},"radius":{"datum":525,"type":"quantitative"},"text":{"field":"l"}}},
{"data":{"name":"rt"},"transform":[{"filter":"datum.k==500"}],"mark":{"type":"text","x":0,"y":0,"dy":-7},"encoding":{"theta":{"datum":0,"type":"quantitative"},"radius":{"field":"v","type":"quantitative","stack":null},"text":{"field":"l"}}}
]},
{"width":38,"height":1,"data":{"values":[]},"mark":"point"},
{"width":179,"height":179,"title":{"text":"(d) SBAk2 test data","orient":"bottom","anchor":"end","align":"center","dx":6,"offset":35,"frame":"group"},"layer":[
{"data":{"name":"rt"},"transform":[{"filter":"datum.k==685&&datum.v>0"}],"mark":{"type":"arc","x":"width","y":0,"filled":false,"stroke":"#d0d0d0","strokeWidth":0.8},"encoding":{"radius":{"field":"v","type":"quantitative","stack":null,"scale":{"type":"linear","domain":[0,719.25],"range":[0,179]}},"theta":{"datum":0,"type":"quantitative","scale":{"type":"linear","domain":[0,50000],"range":[4.712389,3.141593]}},"theta2":{"datum":50000}}},
{"data":{"name":"tt"},"transform":[{"filter":"datum.k=='B'&&datum.v>0"}],"mark":{"type":"arc","x":"width","y":0,"filled":false,"stroke":"#d0d0d0","strokeWidth":0.8},"encoding":{"theta":{"field":"v","type":"quantitative"},"theta2":{"field":"v"},"radius":{"datum":719.25,"type":"quantitative"}}},
{"data":{"name":"bars"},"transform":[{"filter":"datum.p=='d'&&datum.q=='BL'&&datum.n>0"}],"mark":{"type":"arc","x":"width","y":0,"stroke":"white","strokeWidth":1},"encoding":{"theta":{"field":"n","type":"quantitative"},"theta2":{"datum":0},"radius":{"field":"r1","type":"quantitative"},"radius2":{"field":"r0"},"color":{"field":"c","type":"nominal","scale":{"domain":[0,1,2,3,4],"range":["#1f77b4","#ff7f0e","#2ca02c","#d62728","#9467bd"]}}}},
{"data":{"values":[{}]},"mark":{"type":"arc","x":"width","y":0,"filled":false,"stroke":"#666666","strokeWidth":0.9},"encoding":{"theta":{"datum":0,"type":"quantitative"},"theta2":{"datum":50000},"radius":{"datum":719.25,"type":"quantitative"}}},
{"data":{"name":"tt"},"transform":[{"filter":"datum.k=='B'"}],"mark":{"type":"text","x":"width","y":0,"radiusOffset":7},"encoding":{"theta":{"field":"v","type":"quantitative"},"radius":{"datum":719.25,"type":"quantitative"},"text":{"field":"l"}}}
]},
{"width":179,"height":179,"layer":[
{"data":{"name":"rt"},"transform":[{"filter":"datum.k==473&&datum.v>0"}],"mark":{"type":"arc","x":0,"y":0,"filled":false,"stroke":"#d0d0d0","strokeWidth":0.8},"encoding":{"radius":{"field":"v","type":"quantitative","stack":null,"scale":{"type":"linear","domain":[0,496.65],"range":[0,179]}},"theta":{"datum":0,"type":"quantitative","scale":{"type":"linear","domain":[0,50000],"range":[1.570796,3.141593]}},"theta2":{"datum":50000}}},
{"data":{"name":"tt"},"transform":[{"filter":"datum.k=='B'&&datum.v>0"}],"mark":{"type":"arc","x":0,"y":0,"filled":false,"stroke":"#d0d0d0","strokeWidth":0.8},"encoding":{"theta":{"field":"v","type":"quantitative"},"theta2":{"field":"v"},"radius":{"datum":496.65,"type":"quantitative"}}},
{"data":{"name":"bars"},"transform":[{"filter":"datum.p=='d'&&datum.q=='BR'&&datum.n>0"}],"mark":{"type":"arc","x":0,"y":0,"stroke":"white","strokeWidth":1},"encoding":{"theta":{"field":"n","type":"quantitative"},"theta2":{"datum":0},"radius":{"field":"r1","type":"quantitative"},"radius2":{"field":"r0"},"color":{"field":"c","type":"nominal","scale":{"domain":[0,1,2,3,4],"range":["#1f77b4","#ff7f0e","#2ca02c","#d62728","#9467bd"]}}}},
{"data":{"values":[{}]},"mark":{"type":"arc","x":0,"y":0,"filled":false,"stroke":"#666666","strokeWidth":0.9},"encoding":{"theta":{"datum":0,"type":"quantitative"},"theta2":{"datum":50000},"radius":{"datum":496.65,"type":"quantitative"}}},
{"data":{"name":"tt"},"transform":[{"filter":"datum.k=='B'"}],"mark":{"type":"text","x":0,"y":0,"radiusOffset":7},"encoding":{"theta":{"field":"v","type":"quantitative"},"radius":{"datum":496.65,"type":"quantitative"},"text":{"field":"l"}}},
{"data":{"name":"rt"},"transform":[{"filter":"datum.k==473"}],"mark":{"type":"text","x":0,"y":0,"dy":-7},"encoding":{"theta":{"datum":0,"type":"quantitative"},"radius":{"field":"v","type":"quantitative","stack":null},"text":{"field":"l"}}}
]},
{"width":1,"height":64,"data":{"values":[]},"mark":"point"},
{"width":1,"height":1,"data":{"values":[]},"mark":"point"},
{"width":1,"height":1,"data":{"values":[]},"mark":"point"},
{"width":1,"height":1,"data":{"values":[]},"mark":"point"},
{"width":1,"height":1,"data":{"values":[]},"mark":"point"},
{"width":179,"height":179,"layer":[
{"data":{"name":"rt"},"transform":[{"filter":"datum.k==711&&datum.v>0"}],"mark":{"type":"arc","x":"width","y":"height","filled":false,"stroke":"#d0d0d0","strokeWidth":0.8},"encoding":{"radius":{"field":"v","type":"quantitative","stack":null,"scale":{"type":"linear","domain":[0,746.55],"range":[0,179]}},"theta":{"datum":0,"type":"quantitative","scale":{"type":"linear","domain":[0,82437],"range":[4.712389,6.283185]}},"theta2":{"datum":82437}}},
{"data":{"name":"tt"},"transform":[{"filter":"datum.k=='E'&&datum.v>0"}],"mark":{"type":"arc","x":"width","y":"height","filled":false,"stroke":"#d0d0d0","strokeWidth":0.8},"encoding":{"theta":{"field":"v","type":"quantitative"},"theta2":{"field":"v"},"radius":{"datum":746.55,"type":"quantitative"}}},
{"data":{"name":"bars"},"transform":[{"filter":"datum.p=='e'&&datum.q=='TL'&&datum.n>0"}],"mark":{"type":"arc","x":"width","y":"height","stroke":"white","strokeWidth":1},"encoding":{"theta":{"field":"n","type":"quantitative"},"theta2":{"datum":0},"radius":{"field":"r1","type":"quantitative"},"radius2":{"field":"r0"},"color":{"field":"c","type":"nominal","scale":{"domain":[0,1,2,3,4],"range":["#1f77b4","#ff7f0e","#2ca02c","#d62728","#9467bd"]}}}},
{"data":{"values":[{}]},"mark":{"type":"arc","x":"width","y":"height","filled":false,"stroke":"#666666","strokeWidth":0.9},"encoding":{"theta":{"datum":0,"type":"quantitative"},"theta2":{"datum":82437},"radius":{"datum":746.55,"type":"quantitative"}}},
{"data":{"name":"tt"},"transform":[{"filter":"datum.k=='E'"}],"mark":{"type":"text","x":"width","y":"height","radiusOffset":7},"encoding":{"theta":{"field":"v","type":"quantitative"},"radius":{"datum":746.55,"type":"quantitative"},"text":{"field":"l"}}},
{"data":{"name":"rt"},"transform":[{"filter":"datum.k==711"}],"mark":{"type":"text","x":"width","y":"height","dy":7},"encoding":{"theta":{"datum":0,"type":"quantitative"},"radius":{"field":"v","type":"quantitative","stack":null},"text":{"field":"l"}}}
]},
{"width":179,"height":179,"layer":[
{"data":{"name":"rt"},"transform":[{"filter":"datum.k==500&&datum.v>0"}],"mark":{"type":"arc","x":0,"y":"height","filled":false,"stroke":"#d0d0d0","strokeWidth":0.8},"encoding":{"radius":{"field":"v","type":"quantitative","stack":null,"scale":{"type":"linear","domain":[0,525],"range":[0,179]}},"theta":{"datum":0,"type":"quantitative","scale":{"type":"linear","domain":[0,82445],"range":[1.570796,0]}},"theta2":{"datum":82445}}},
{"data":{"name":"tt"},"transform":[{"filter":"datum.k=='A'&&datum.v>0"}],"mark":{"type":"arc","x":0,"y":"height","filled":false,"stroke":"#d0d0d0","strokeWidth":0.8},"encoding":{"theta":{"field":"v","type":"quantitative"},"theta2":{"field":"v"},"radius":{"datum":525,"type":"quantitative"}}},
{"data":{"name":"bars"},"transform":[{"filter":"datum.p=='e'&&datum.q=='TR'&&datum.n>0"}],"mark":{"type":"arc","x":0,"y":"height","stroke":"white","strokeWidth":1},"encoding":{"theta":{"field":"n","type":"quantitative"},"theta2":{"datum":0},"radius":{"field":"r1","type":"quantitative"},"radius2":{"field":"r0"},"color":{"field":"c","type":"nominal","scale":{"domain":[0,1,2,3,4],"range":["#1f77b4","#ff7f0e","#2ca02c","#d62728","#9467bd"]}}}},
{"data":{"values":[{}]},"mark":{"type":"arc","x":0,"y":"height","filled":false,"stroke":"#666666","strokeWidth":0.9},"encoding":{"theta":{"datum":0,"type":"quantitative"},"theta2":{"datum":82445},"radius":{"datum":525,"type":"quantitative"}}},
{"data":{"name":"tt"},"transform":[{"filter":"datum.k=='A'"}],"mark":{"type":"text","x":0,"y":"height","radiusOffset":7},"encoding":{"theta":{"field":"v","type":"quantitative"},"radius":{"datum":525,"type":"quantitative"},"text":{"field":"l"}}}
]},
{"width":38,"height":1,"data":{"values":[]},"mark":"point"},
{"width":179,"height":179,"layer":[
{"data":{"name":"rt"},"transform":[{"filter":"datum.k==669&&datum.v>0"}],"mark":{"type":"arc","x":"width","y":"height","filled":false,"stroke":"#d0d0d0","strokeWidth":0.8},"encoding":{"radius":{"field":"v","type":"quantitative","stack":null,"scale":{"type":"linear","domain":[0,702.45],"range":[0,179]}},"theta":{"datum":0,"type":"quantitative","scale":{"type":"linear","domain":[0,50000],"range":[4.712389,6.283185]}},"theta2":{"datum":50000}}},
{"data":{"name":"tt"},"transform":[{"filter":"datum.k=='B'&&datum.v>0"}],"mark":{"type":"arc","x":"width","y":"height","filled":false,"stroke":"#d0d0d0","strokeWidth":0.8},"encoding":{"theta":{"field":"v","type":"quantitative"},"theta2":{"field":"v"},"radius":{"datum":702.45,"type":"quantitative"}}},
{"data":{"name":"bars"},"transform":[{"filter":"datum.p=='f'&&datum.q=='TL'&&datum.n>0"}],"mark":{"type":"arc","x":"width","y":"height","stroke":"white","strokeWidth":1},"encoding":{"theta":{"field":"n","type":"quantitative"},"theta2":{"datum":0},"radius":{"field":"r1","type":"quantitative"},"radius2":{"field":"r0"},"color":{"field":"c","type":"nominal","scale":{"domain":[0,1,2,3,4],"range":["#1f77b4","#ff7f0e","#2ca02c","#d62728","#9467bd"]}}}},
{"data":{"values":[{}]},"mark":{"type":"arc","x":"width","y":"height","filled":false,"stroke":"#666666","strokeWidth":0.9},"encoding":{"theta":{"datum":0,"type":"quantitative"},"theta2":{"datum":50000},"radius":{"datum":702.45,"type":"quantitative"}}},
{"data":{"name":"tt"},"transform":[{"filter":"datum.k=='B'"}],"mark":{"type":"text","x":"width","y":"height","radiusOffset":7},"encoding":{"theta":{"field":"v","type":"quantitative"},"radius":{"datum":702.45,"type":"quantitative"},"text":{"field":"l"}}},
{"data":{"name":"rt"},"transform":[{"filter":"datum.k==669"}],"mark":{"type":"text","x":"width","y":"height","dy":7},"encoding":{"theta":{"datum":0,"type":"quantitative"},"radius":{"field":"v","type":"quantitative","stack":null},"text":{"field":"l"}}}
]},
{"width":179,"height":179,"layer":[
{"data":{"name":"rt"},"transform":[{"filter":"datum.k==474&&datum.v>0"}],"mark":{"type":"arc","x":0,"y":"height","filled":false,"stroke":"#d0d0d0","strokeWidth":0.8},"encoding":{"radius":{"field":"v","type":"quantitative","stack":null,"scale":{"type":"linear","domain":[0,497.7],"range":[0,179]}},"theta":{"datum":0,"type":"quantitative","scale":{"type":"linear","domain":[0,50000],"range":[1.570796,0]}},"theta2":{"datum":50000}}},
{"data":{"name":"tt"},"transform":[{"filter":"datum.k=='B'&&datum.v>0"}],"mark":{"type":"arc","x":0,"y":"height","filled":false,"stroke":"#d0d0d0","strokeWidth":0.8},"encoding":{"theta":{"field":"v","type":"quantitative"},"theta2":{"field":"v"},"radius":{"datum":497.7,"type":"quantitative"}}},
{"data":{"name":"bars"},"transform":[{"filter":"datum.p=='f'&&datum.q=='TR'&&datum.n>0"}],"mark":{"type":"arc","x":0,"y":"height","stroke":"white","strokeWidth":1},"encoding":{"theta":{"field":"n","type":"quantitative"},"theta2":{"datum":0},"radius":{"field":"r1","type":"quantitative"},"radius2":{"field":"r0"},"color":{"field":"c","type":"nominal","scale":{"domain":[0,1,2,3,4],"range":["#1f77b4","#ff7f0e","#2ca02c","#d62728","#9467bd"]}}}},
{"data":{"values":[{}]},"mark":{"type":"arc","x":0,"y":"height","filled":false,"stroke":"#666666","strokeWidth":0.9},"encoding":{"theta":{"datum":0,"type":"quantitative"},"theta2":{"datum":50000},"radius":{"datum":497.7,"type":"quantitative"}}},
{"data":{"name":"tt"},"transform":[{"filter":"datum.k=='B'"}],"mark":{"type":"text","x":0,"y":"height","radiusOffset":7},"encoding":{"theta":{"field":"v","type":"quantitative"},"radius":{"datum":497.7,"type":"quantitative"},"text":{"field":"l"}}}
]},
{"width":179,"height":179,"title":{"text":"(e) SBAk2 train data","orient":"bottom","anchor":"end","align":"center","dx":6,"offset":30,"frame":"group"},"layer":[
{"data":{"name":"rt"},"transform":[{"filter":"datum.k==711&&datum.v>0"}],"mark":{"type":"arc","x":"width","y":0,"filled":false,"stroke":"#d0d0d0","strokeWidth":0.8},"encoding":{"radius":{"field":"v","type":"quantitative","stack":null,"scale":{"type":"linear","domain":[0,746.55],"range":[0,179]}},"theta":{"datum":0,"type":"quantitative","scale":{"type":"linear","domain":[0,82437],"range":[4.712389,3.141593]}},"theta2":{"datum":82437}}},
{"data":{"name":"tt"},"transform":[{"filter":"datum.k=='E'&&datum.v>0"}],"mark":{"type":"arc","x":"width","y":0,"filled":false,"stroke":"#d0d0d0","strokeWidth":0.8},"encoding":{"theta":{"field":"v","type":"quantitative"},"theta2":{"field":"v"},"radius":{"datum":746.55,"type":"quantitative"}}},
{"data":{"name":"bars"},"transform":[{"filter":"datum.p=='e'&&datum.q=='BL'&&datum.n>0"}],"mark":{"type":"arc","x":"width","y":0,"stroke":"white","strokeWidth":1},"encoding":{"theta":{"field":"n","type":"quantitative"},"theta2":{"datum":0},"radius":{"field":"r1","type":"quantitative"},"radius2":{"field":"r0"},"color":{"field":"c","type":"nominal","scale":{"domain":[0,1,2,3,4],"range":["#1f77b4","#ff7f0e","#2ca02c","#d62728","#9467bd"]}}}},
{"data":{"values":[{}]},"mark":{"type":"arc","x":"width","y":0,"filled":false,"stroke":"#666666","strokeWidth":0.9},"encoding":{"theta":{"datum":0,"type":"quantitative"},"theta2":{"datum":82437},"radius":{"datum":746.55,"type":"quantitative"}}},
{"data":{"name":"tt"},"transform":[{"filter":"datum.k=='E'"}],"mark":{"type":"text","x":"width","y":0,"radiusOffset":7},"encoding":{"theta":{"field":"v","type":"quantitative"},"radius":{"datum":746.55,"type":"quantitative"},"text":{"field":"l"}}}
]},
{"width":179,"height":179,"layer":[
{"data":{"name":"rt"},"transform":[{"filter":"datum.k==500&&datum.v>0"}],"mark":{"type":"arc","x":0,"y":0,"filled":false,"stroke":"#d0d0d0","strokeWidth":0.8},"encoding":{"radius":{"field":"v","type":"quantitative","stack":null,"scale":{"type":"linear","domain":[0,525],"range":[0,179]}},"theta":{"datum":0,"type":"quantitative","scale":{"type":"linear","domain":[0,82437],"range":[1.570796,3.141593]}},"theta2":{"datum":82437}}},
{"data":{"name":"tt"},"transform":[{"filter":"datum.k=='E'&&datum.v>0"}],"mark":{"type":"arc","x":0,"y":0,"filled":false,"stroke":"#d0d0d0","strokeWidth":0.8},"encoding":{"theta":{"field":"v","type":"quantitative"},"theta2":{"field":"v"},"radius":{"datum":525,"type":"quantitative"}}},
{"data":{"name":"bars"},"transform":[{"filter":"datum.p=='e'&&datum.q=='BR'&&datum.n>0"}],"mark":{"type":"arc","x":0,"y":0,"stroke":"white","strokeWidth":1},"encoding":{"theta":{"field":"n","type":"quantitative"},"theta2":{"datum":0},"radius":{"field":"r1","type":"quantitative"},"radius2":{"field":"r0"},"color":{"field":"c","type":"nominal","scale":{"domain":[0,1,2,3,4],"range":["#1f77b4","#ff7f0e","#2ca02c","#d62728","#9467bd"]}}}},
{"data":{"values":[{}]},"mark":{"type":"arc","x":0,"y":0,"filled":false,"stroke":"#666666","strokeWidth":0.9},"encoding":{"theta":{"datum":0,"type":"quantitative"},"theta2":{"datum":82437},"radius":{"datum":525,"type":"quantitative"}}},
{"data":{"name":"tt"},"transform":[{"filter":"datum.k=='E'"}],"mark":{"type":"text","x":0,"y":0,"radiusOffset":7},"encoding":{"theta":{"field":"v","type":"quantitative"},"radius":{"datum":525,"type":"quantitative"},"text":{"field":"l"}}},
{"data":{"name":"rt"},"transform":[{"filter":"datum.k==500"}],"mark":{"type":"text","x":0,"y":0,"dy":-7},"encoding":{"theta":{"datum":0,"type":"quantitative"},"radius":{"field":"v","type":"quantitative","stack":null},"text":{"field":"l"}}}
]},
{"width":38,"height":1,"data":{"values":[]},"mark":"point"},
{"width":179,"height":179,"title":{"text":"(f) SBAk3 test data","orient":"bottom","anchor":"end","align":"center","dx":6,"offset":30,"frame":"group"},"layer":[
{"data":{"name":"rt"},"transform":[{"filter":"datum.k==669&&datum.v>0"}],"mark":{"type":"arc","x":"width","y":0,"filled":false,"stroke":"#d0d0d0","strokeWidth":0.8},"encoding":{"radius":{"field":"v","type":"quantitative","stack":null,"scale":{"type":"linear","domain":[0,702.45],"range":[0,179]}},"theta":{"datum":0,"type":"quantitative","scale":{"type":"linear","domain":[0,50000],"range":[4.712389,3.141593]}},"theta2":{"datum":50000}}},
{"data":{"name":"tt"},"transform":[{"filter":"datum.k=='B'&&datum.v>0"}],"mark":{"type":"arc","x":"width","y":0,"filled":false,"stroke":"#d0d0d0","strokeWidth":0.8},"encoding":{"theta":{"field":"v","type":"quantitative"},"theta2":{"field":"v"},"radius":{"datum":702.45,"type":"quantitative"}}},
{"data":{"name":"bars"},"transform":[{"filter":"datum.p=='f'&&datum.q=='BL'&&datum.n>0"}],"mark":{"type":"arc","x":"width","y":0,"stroke":"white","strokeWidth":1},"encoding":{"theta":{"field":"n","type":"quantitative"},"theta2":{"datum":0},"radius":{"field":"r1","type":"quantitative"},"radius2":{"field":"r0"},"color":{"field":"c","type":"nominal","scale":{"domain":[0,1,2,3,4],"range":["#1f77b4","#ff7f0e","#2ca02c","#d62728","#9467bd"]}}}},
{"data":{"values":[{}]},"mark":{"type":"arc","x":"width","y":0,"filled":false,"stroke":"#666666","strokeWidth":0.9},"encoding":{"theta":{"datum":0,"type":"quantitative"},"theta2":{"datum":50000},"radius":{"datum":702.45,"type":"quantitative"}}},
{"data":{"name":"tt"},"transform":[{"filter":"datum.k=='B'"}],"mark":{"type":"text","x":"width","y":0,"radiusOffset":7},"encoding":{"theta":{"field":"v","type":"quantitative"},"radius":{"datum":702.45,"type":"quantitative"},"text":{"field":"l"}}}
]},
{"width":179,"height":179,"layer":[
{"data":{"name":"rt"},"transform":[{"filter":"datum.k==474&&datum.v>0"}],"mark":{"type":"arc","x":0,"y":0,"filled":false,"stroke":"#d0d0d0","strokeWidth":0.8},"encoding":{"radius":{"field":"v","type":"quantitative","stack":null,"scale":{"type":"linear","domain":[0,497.7],"range":[0,179]}},"theta":{"datum":0,"type":"quantitative","scale":{"type":"linear","domain":[0,50000],"range":[1.570796,3.141593]}},"theta2":{"datum":50000}}},
{"data":{"name":"tt"},"transform":[{"filter":"datum.k=='B'&&datum.v>0"}],"mark":{"type":"arc","x":0,"y":0,"filled":false,"stroke":"#d0d0d0","strokeWidth":0.8},"encoding":{"theta":{"field":"v","type":"quantitative"},"theta2":{"field":"v"},"radius":{"datum":497.7,"type":"quantitative"}}},
{"data":{"name":"bars"},"transform":[{"filter":"datum.p=='f'&&datum.q=='BR'&&datum.n>0"}],"mark":{"type":"arc","x":0,"y":0,"stroke":"white","strokeWidth":1},"encoding":{"theta":{"field":"n","type":"quantitative"},"theta2":{"datum":0},"radius":{"field":"r1","type":"quantitative"},"radius2":{"field":"r0"},"color":{"field":"c","type":"nominal","scale":{"domain":[0,1,2,3,4],"range":["#1f77b4","#ff7f0e","#2ca02c","#d62728","#9467bd"]}}}},
{"data":{"values":[{}]},"mark":{"type":"arc","x":0,"y":0,"filled":false,"stroke":"#666666","strokeWidth":0.9},"encoding":{"theta":{"datum":0,"type":"quantitative"},"theta2":{"datum":50000},"radius":{"datum":497.7,"type":"quantitative"}}},
{"data":{"name":"tt"},"transform":[{"filter":"datum.k=='B'"}],"mark":{"type":"text","x":0,"y":0,"radiusOffset":7},"encoding":{"theta":{"field":"v","type":"quantitative"},"radius":{"datum":497.7,"type":"quantitative"},"text":{"field":"l"}}},
{"data":{"name":"rt"},"transform":[{"filter":"datum.k==474"}],"mark":{"type":"text","x":0,"y":0,"dy":-7},"encoding":{"theta":{"datum":0,"type":"quantitative"},"radius":{"field":"v","type":"quantitative","stack":null},"text":{"field":"l"}}}
]}
]
}
